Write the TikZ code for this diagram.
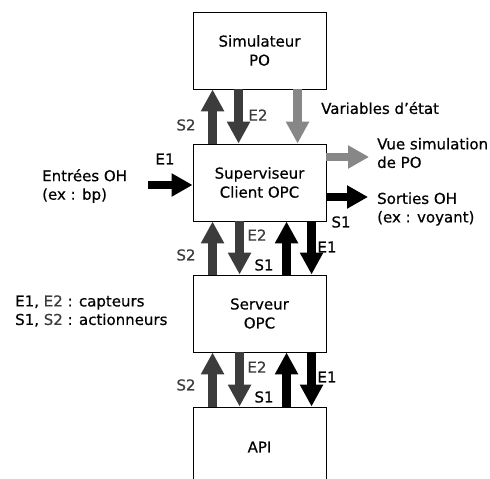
\documentclass[tikz,border=0pt]{standalone}
\usepackage{fontspec}
\setmainfont{DejaVu Sans}[FakeBold=0.5]
\usetikzlibrary{arrows.meta}
\definecolor{darkg}{RGB}{60,60,60}
\definecolor{lightg}{RGB}{135,135,135}
\begin{document}
\begin{tikzpicture}[x=1pt,y=-1pt,
  box/.style={draw,line width=0.9pt,minimum width=133pt,minimum height=77pt,align=center,inner sep=0pt,font=\fontsize{15}{19}\selectfont},
  lbl/.style={inner sep=0pt,font=\fontsize{15}{18.5}\selectfont},
  varr/.style={line width=8.5pt,-{Triangle[width=22pt,length=22pt]}},
  harr/.style={line width=7.5pt,-{Triangle[width=22pt,length=21pt]}},
]
\useasboundingbox[fill=white] (0,0) rectangle (490,479);

\node[box] (sim) at (259.5,50.5) {Simulateur\\PO};
\node[box] (sup) at (259.5,182.5) {Superviseur\\Client OPC};
\node[box] (srv) at (259.5,313.5) {Serveur\\OPC};
\node[box,minimum height=80pt] (api) at (259.5,447) {API};

% simulateur <-> superviseur
\draw[varr,darkg] ([xshift=20pt]sup.north west) -- ([xshift=20pt]sim.south west);
\draw[varr,darkg] ([xshift=46pt]sim.south west) -- ([xshift=46pt]sup.north west);
\draw[varr,lightg] ([xshift=105pt]sim.south west) -- ([xshift=105pt]sup.north west);

% superviseur <-> serveur
\draw[varr,darkg] ([xshift=20pt]srv.north west) -- ([xshift=20pt]sup.south west);
\draw[varr,darkg] ([xshift=47pt]sup.south west) -- ([xshift=47pt]srv.north west);
\draw[varr] ([xshift=94pt]srv.north west) -- ([xshift=94pt]sup.south west);
\draw[varr] ([xshift=119pt]sup.south west) -- ([xshift=119pt]srv.north west);

% serveur <-> API
\draw[varr,darkg] ([xshift=20pt]api.north west) -- ([xshift=20pt]srv.south west);
\draw[varr,darkg] ([xshift=47pt]srv.south west) -- ([xshift=47pt]api.north west);
\draw[varr] ([xshift=94pt]api.north west) -- ([xshift=94pt]srv.south west);
\draw[varr] ([xshift=119pt]srv.south west) -- ([xshift=119pt]api.north west);

% horizontal arrows
\coordinate (ein) at (148,185);
\draw[harr] (ein) -- (ein -| sup.west);
\coordinate (vue) at (369,157);
\draw[harr,lightg] (vue -| sup.east) -- (vue);
\coordinate (sor) at (368,197);
\draw[harr] (sor -| sup.east) -- (sor);

% arrow labels
\node[lbl,darkg] (s2a) at (186,125) {S2};
\node[lbl,darkg] (e2a) at (258,115) {E2};
\node[lbl] (e1in) at (165,159) {E1};
\node[lbl] (s1out) at (341,222) {S1};

\node[lbl,darkg] (s2b) at (186,255) {S2};
\node[lbl,darkg] (e2b) at (257,235) {E2};
\node[lbl] (s1b) at (264,265) {S1};
\node[lbl] (e1b) at (327,247) {E1};

\node[lbl,darkg] (s2c) at (186,385) {S2};
\node[lbl,darkg] (e2c) at (257,367) {E2};
\node[lbl] (s1c) at (264,397) {S1};
\node[lbl] (e1c) at (327,377) {E1};

% text labels
\node[lbl,anchor=west] (var) at (321,108) {Variables d'état};
\node[lbl,anchor=west,align=left] (vuet) at (377,153) {Vue simulation\\de PO};
\node[lbl,anchor=west,align=left] (sort) at (377,209) {Sorties OH\\(ex : voyant)};
\node[lbl,anchor=west,align=left] (entt) at (42,186) {Entrées OH\\(ex : bp)};
\node[lbl,anchor=west,align=left] (leg) at (15,311) {E1, \textcolor{darkg}{E2} : capteurs\\S1, \textcolor{darkg}{S2} : actionneurs};
\end{tikzpicture}
\end{document}
